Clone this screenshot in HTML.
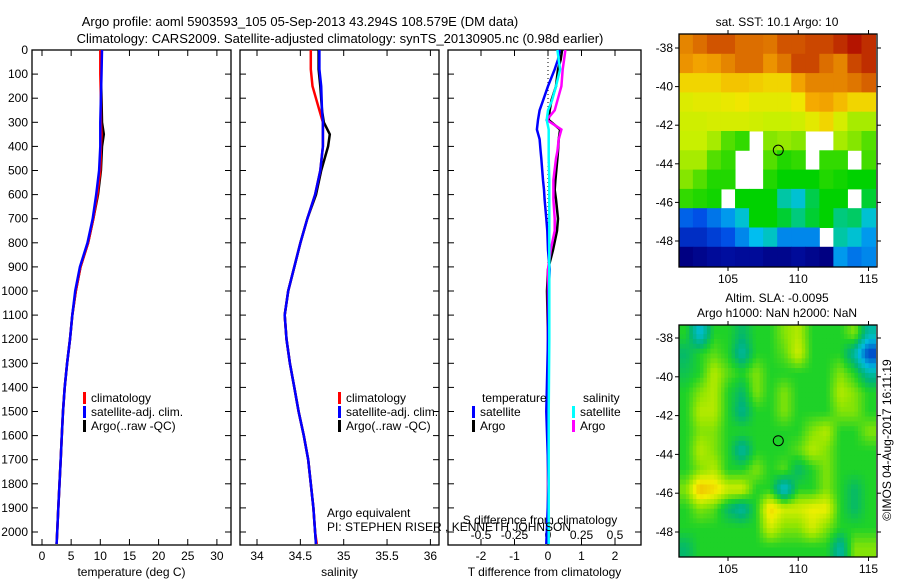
<!DOCTYPE html>
<html><head><meta charset="utf-8">
<style>
html,body{margin:0;padding:0;background:#fff;}
svg{display:block;font-family:"Liberation Sans",sans-serif;}
text{font-size:12px;fill:#000;}
</style></head>
<body>
<svg id="fig" width="900" height="580" viewBox="0 0 900 580">
<text x="300" y="26" text-anchor="middle" style="font-size:13px">Argo profile: aoml 5903593_105 05-Sep-2013 43.294S 108.579E (DM data)</text>
<text x="340" y="43" text-anchor="middle" style="font-size:13px">Climatology: CARS2009. Satellite-adjusted climatology: synTS_20130905.nc (0.98d earlier)</text>
<g id="g"></g>
</svg>
<script>
// ---- Depth axis ----
const depthTicks=[0,100,200,300,400,500,600,700,800,900,1000,1100,1200,1300,1400,1500,1600,1700,1800,1900,2000];
// ---- Temperature panel ----
const tTicks=[0,5,10,15,20,25,30];
const tDepth=[0,100,200,300,350,400,500,600,700,800,900,1000,1100,1200,1300,1400,1500,1600,1700,1800,1900,2000,2050];
const tClim=[10.0,10.0,10.1,10.1,10.2,10.1,10.0,9.5,8.8,7.9,6.6,5.8,5.2,4.8,4.3,3.9,3.6,3.4,3.2,3.0,2.8,2.6,2.5];
const tSat=[10.3,10.2,10.1,10.0,10.0,10.0,9.8,9.3,8.7,7.8,6.5,5.7,5.2,4.8,4.3,3.9,3.6,3.4,3.2,3.0,2.8,2.6,2.5];
const tArgo=[10.2,10.1,10.2,10.3,10.6,10.3,10.1,9.6,8.8,7.9,6.6,5.8,5.2,4.8,4.3,3.9,3.6,3.4,3.2,3.0,2.8,2.6,2.5];
// ---- Salinity panel ----
const sTicks=[34,34.5,35,35.5,36];
const sDepth=[0,80,150,250,300,350,400,500,600,700,800,900,1000,1100,1200,1300,1400,1500,1600,1700,1800,1900,2000,2050];
const sClim=[34.62,34.62,34.64,34.72,34.76,34.76,34.76,34.73,34.67,34.58,34.50,34.43,34.36,34.32,34.34,34.38,34.43,34.48,34.54,34.59,34.62,34.65,34.67,34.69];
const sSat=[34.72,34.72,34.74,34.75,34.76,34.76,34.76,34.73,34.67,34.58,34.50,34.43,34.36,34.32,34.34,34.38,34.43,34.48,34.54,34.59,34.62,34.65,34.67,34.68];
const sArgo=[34.71,34.71,34.73,34.75,34.77,34.84,34.82,34.74,34.68,34.58,34.50,34.43,34.36,34.32,34.34,34.38,34.43,34.48,34.54,34.59,34.62,34.65,34.67,34.68];
// ---- Difference panel ----
const dtTicks=[-2,-1,0,1,2];
const dsTicks=[-0.5,-0.25,0,0.25,0.5];
const dDepth=[0,40,80,150,210,250,290,330,370,420,450,540,580,620,700,750,830,910,1000,1200,1500,1800,2050];
const dTSat=[0.35,0.3,0.2,0.0,-0.15,-0.25,-0.3,-0.33,-0.25,-0.22,-0.2,-0.15,-0.12,-0.1,-0.05,-0.02,0,0.05,0.02,0,-0.05,0.02,-0.05];
const dTArgo=[0.42,0.38,0.3,0.24,0.1,0.05,0.02,0.36,0.32,0.3,0.28,0.22,0.2,0.24,0.3,0.27,0.15,0.0,-0.03,0,0,0,0];
const dSSat=[0.07,0.08,0.09,0.06,0.03,0.0,-0.01,0.005,0.005,0.005,0.005,0.01,0.01,0.01,0.01,0.01,0.01,0.01,0.01,0.01,0.005,0.005,0.005];
const dSArgo=[0.13,0.12,0.11,0.1,0.07,0.05,-0.01,0.1,0.08,0.07,0.06,0.04,0.04,0.04,0.05,0.05,0.02,0.0,0.0,0,0,0,0];
// ---- SST map (rows north->south, cols 101.5..115.5 E) ----
const sstRows=[
[13,13.3,13.5,13.5,13.3,13.3,13.2,13.5,13.5,13.6,13.6,13.8,14,13.8],
[12.8,12.6,12.7,13,13.3,13.3,12.8,13.2,13.6,13.6,13.3,13,13.6,13.8],
[12,12,12,12.2,12.2,12.1,12,12,12.6,13,13,13,13.2,13.4],
[11.5,11.6,11.6,11.7,11.8,11.6,11.6,11.6,11.8,12.5,12.6,12.3,12,12],
[11.3,11.3,11.4,11.4,11.4,11.3,11.2,11.2,11.3,11.6,12,11.4,11,11],
[11.2,11.2,11,10.5,10.3,null,10.8,10.9,10.8,null,null,11,10.8,10.5],
[11,11,10.5,10.3,null,null,10.5,10.2,10.3,null,10.3,10.3,null,10.4],
[10.8,10.5,10.2,10.2,null,null,10.2,10,10,10,10.2,10.1,10,10],
[10.3,10.2,10.1,null,10,10,10,9.3,9,9.7,10,10,null,9.8],
[8.3,8.2,8.4,8.6,9,10,10,9.8,9.5,9.8,10,9.5,9.6,9],
[7.8,7.8,8,8.2,8.5,8.8,9.1,8.5,8.5,8.5,null,9.3,9,8.6],
[6.8,7,7.2,7.3,7.2,7.2,7,7,7.2,7,6.8,8.6,8.4,8.5]];
// ---- SLA map ----
const slaRows=[
[0,-0.15,0,0,-0.05,0,0,0.05,0.08,0,0,0,0.05,-0.1],
[-0.05,0,0.03,0,-0.1,0,0,0.03,0.1,0,0,0,-0.1,-0.3],
[-0.03,0,0.08,0.03,0,0.05,0,0,0,0,0,0.05,0,-0.1],
[0,0.05,0.08,0,-0.05,0.05,0,0.05,0,0,0,0.08,0.05,0],
[0,0.08,0.08,0,-0.08,0,0,0.05,0,0,0,0.05,0.05,0],
[0,0.05,0.05,0,0,0,0,0,0,0.05,0.08,0,0,0.05],
[0,0.08,0.05,0,-0.1,0,0,0,0.03,0.08,0.05,0,0,0],
[0,0.05,0.08,0,0,0.05,0,0.03,-0.05,0,0.05,0,0,0],
[0.05,0.18,0.15,0.1,0.1,0,0,-0.15,0,0,0.05,0,-0.05,0],
[0,0.05,0.03,-0.05,-0.1,0,0.15,0.1,0.1,0.12,0.12,0,-0.05,0],
[0,0,0,0,0,0,0.1,0.05,0.05,0.1,0.05,0,0,0],
[-0.05,0,0,0,0,0,0,0,0,0,0,-0.1,0.05,0.05]];
const latTicks=[-38,-40,-42,-44,-46,-48];
const lonTicks=[105,110,115];
const argoLon=108.579, argoLat=-43.294;

const NS='http://www.w3.org/2000/svg';
const G=document.getElementById('g');
function el(tag,attrs,parent){const e=document.createElementNS(NS,tag);for(const k in attrs)e.setAttribute(k,attrs[k]);(parent||G).appendChild(e);return e;}
function txt(x,y,s,anchor,parent,size){const t=el('text',{x:x,y:y,'text-anchor':anchor||'middle'},parent);if(size)t.style.fontSize=size+'px';t.textContent=s;return t;}

const PT=50,PB=545;
const yD=d=>PT+d*0.241;

function panel(name,x0,x1,xs,ticks,fmt,lbl){
  const g=el('g',{});
  
  
  el('rect',{x:x0,y:PT,width:x1-x0,height:PB-PT,fill:'none',stroke:'#000','stroke-width':1.3},g);
  ticks.forEach(v=>{const x=xs(v);
    el('line',{x1:x,x2:x,y1:PT,y2:PT+6,stroke:'#000'},g);
    el('line',{x1:x,x2:x,y1:PB,y2:PB-6,stroke:'#000'},g);
    if(fmt){const t=txt(x,560,fmt(v),'middle',g);}
  });
  depthTicks.forEach(d=>{const y=yD(d);
    el('line',{x1:x0,x2:x0+6,y1:y,y2:y,stroke:'#000'},g);
    el('line',{x1:x1,x2:x1-6,y1:y,y2:y,stroke:'#000'},g);});
  if(lbl){const t=txt((x0+x1)/2,576,lbl,'middle',g);}
  return g;
}
function line(g,xs,vals,depths,color,w,name){
  const pts=vals.map((v,i)=>xs(v).toFixed(1)+','+yD(depths[i]).toFixed(1)).join(' ');
  const p=el('polyline',{points:pts,fill:'none',stroke:color,'stroke-width':w||2.5,'stroke-linejoin':'miter'},g);
  
  
}
function legend(g,x,y,color,label){
  el('rect',{x:x,y:y-6,width:3,height:12,fill:color},g);
  const t=txt(x+8,y+4,label,'start',g);
  
  
}

depthTicks.forEach(d=>{const t=txt(28,yD(d)+4,String(d),'end');
  
  });

const xT=v=>42+v*5.83;
const g1=panel('temperature-panel',32,231,xT,tTicks,v=>String(v),'temperature (deg C)');
line(g1,xT,tArgo,tDepth,'#000',2.5,'temp-argo-line');
line(g1,xT,tClim,tDepth,'#f00',2.5,'temp-climatology-line');
line(g1,xT,tSat,tDepth,'#00f',2.5,'temp-satellite-line');
legend(g1,83,398,'#f00','climatology');
legend(g1,83,412,'#00f','satellite-adj. clim.');
legend(g1,83,426,'#000','Argo(..raw -QC)');

const xS=v=>257+(v-34)*86.7;
const g2=panel('salinity-panel',240,439,xS,sTicks,v=>String(v),'salinity');
line(g2,xS,sArgo,sDepth,'#000',2.5,'sal-argo-line');
line(g2,xS,sClim,sDepth,'#f00',2.5,'sal-climatology-line');
line(g2,xS,sSat,sDepth,'#00f',2.5,'sal-satellite-line');
legend(g2,338,398,'#f00','climatology');
legend(g2,338,412,'#00f','satellite-adj. clim.');
legend(g2,338,426,'#000','Argo(..raw -QC)');
const ae=txt(327,517,'Argo equivalent','start',g2);


const xDT=v=>548+v*33.5;
const xDS=v=>548+v*134;
const g3=panel('difference-panel',448,641,xDT,dtTicks,v=>String(v),'T difference from climatology');
dsTicks.forEach(v=>{const t=txt(xDS(v),539,String(v),'middle',g3);});
const sl=txt(540,524,'S difference from climatology','middle',g3);

el('line',{x1:548,x2:548,y1:PT,y2:PB,stroke:'#000','stroke-width':1,'stroke-dasharray':'1,3'},g3);
line(g3,xDT,dTArgo,dDepth,'#000',2.5,'dT-argo-line');
line(g3,xDS,dSArgo,dDepth,'#f0f',2.5,'dS-argo-line');
line(g3,xDT,dTSat,dDepth,'#00f',2.5,'dT-satellite-line');
line(g3,xDS,dSSat,dDepth,'#0ff',2.5,'dS-satellite-line');
const tl=txt(482,402,'temperature','start',g3);
const sl2=txt(583,402,'salinity','start',g3);
legend(g3,472,412,'#00f','satellite');
legend(g3,472,426,'#000','Argo');
legend(g3,572,412,'#0ff','satellite');
legend(g3,572,426,'#f0f','Argo');
const pi=txt(327,531,'PI: STEPHEN RISER , KENNETH JOHNSON','start');


function rgb(a){return 'rgb('+a.map(Math.round).join(',')+')';}
function lerpC(stops,v){
  if(v<=stops[0][0])return rgb(stops[0][1]);
  for(let i=1;i<stops.length;i++){if(v<=stops[i][0]){const a=stops[i-1],b=stops[i],f=(v-a[0])/(b[0]-a[0]);
    return rgb(a[1].map((c,k)=>c+(b[1][k]-c)*f));}}
  return rgb(stops[stops.length-1][1]);
}
const sstStops=[[6.8,[0,0,130]],[7.5,[0,20,170]],[8.2,[0,80,230]],[8.8,[0,190,240]],[9.4,[0,200,150]],[10,[0,210,0]],[10.6,[100,225,0]],[11.2,[200,240,0]],[11.8,[240,230,0]],[12.5,[245,170,0]],[13.3,[220,110,0]],[14,[180,20,0]]];
const slaStops=[[-0.3,[0,60,200]],[-0.15,[0,190,220]],[-0.06,[0,180,120]],[0,[30,210,40]],[0.06,[150,230,0]],[0.12,[240,240,0]],[0.2,[240,170,0]]];
function sample(rows,fi,fj){
  // bilinear interpolation between cell centres
  const R=rows.length,C=rows[0].length;
  const i=Math.min(Math.max(fi-0.5,0),R-1),j=Math.min(Math.max(fj-0.5,0),C-1);
  const i0=Math.floor(i),j0=Math.floor(j),i1=Math.min(i0+1,R-1),j1=Math.min(j0+1,C-1);
  const a=i-i0,b=j-j0;
  return rows[i0][j0]*(1-a)*(1-b)+rows[i0][j1]*(1-a)*b+rows[i1][j0]*a*(1-b)+rows[i1][j1]*a*b;
}
function map(name,rows,stops,x0,x1,y0,y1,lat38y,lat48y,titles,sub){
  const g=el('g',{});
  
  
  const xL=lon=>728+(lon-105)*14.05;
  const yL=lat=>lat38y+(-38-lat)*(lat48y-lat38y)/10;
  const lonW=101.5, latN=-37.3;
  rows.forEach((r,i)=>r.forEach((v,j)=>{
    if(v===null)return;
    for(let si=0;si<sub;si++)for(let sj=0;sj<sub;sj++){
      const val=sub>1?sample(rows,i+(si+0.5)/sub,j+(sj+0.5)/sub):v;
      const xa=Math.max(x0,xL(lonW+j+sj/sub)),xb=Math.min(x1,xL(lonW+j+(sj+1)/sub));
      const ya=Math.max(y0,yL(latN-i-si/sub)),yb=Math.min(y1,yL(latN-i-(si+1)/sub));
      if(xb<=xa||yb<=ya)continue;
      const c=el('rect',{x:xa,y:ya,width:xb-xa+0.5,height:yb-ya+0.5,fill:lerpC(stops,val)},g);
      
      
    }
  }));
  el('rect',{x:x0,y:y0,width:x1-x0,height:y1-y0,fill:'none',stroke:'#000','stroke-width':1.3},g);
  latTicks.forEach(l=>{const y=yL(l);
    el('line',{x1:x0-4,x2:x0,y1:y,y2:y,stroke:'#000'},g);
    el('line',{x1:x1,x2:x1+4,y1:y,y2:y,stroke:'#000'},g);
    const t=txt(673,y+4,String(l),'end',g);});
  lonTicks.forEach(l=>{const x=xL(l);
    el('line',{x1:x,x2:x,y1:y0-4,y2:y0,stroke:'#000'},g);
    el('line',{x1:x,x2:x,y1:y1,y2:y1+4,stroke:'#000'},g);
    const t=txt(x,y1+16,String(l),'middle',g);});
  const m=el('circle',{cx:xL(argoLon),cy:yL(argoLat),r:5,fill:'none',stroke:'#000','stroke-width':1},g);
  
  
  titles.forEach((s,k)=>{const t=txt(777,y0-(titles.length-k-1)*15-8,s,'middle',g);});
}
map('sst-map',sstRows,sstStops,679,877,34,267,48,241,['sat. SST: 10.1 Argo: 10'],1);
map('sla-map',slaRows,slaStops,679,877,325,557,338,532,['Altim. SLA: -0.0095','Argo h1000: NaN h2000: NaN'],4);
const ts=txt(0,0,'©IMOS 04-Aug-2017 16:11:19','middle');
ts.setAttribute('transform','translate(891,440) rotate(-90)');


</script>
</body></html>
